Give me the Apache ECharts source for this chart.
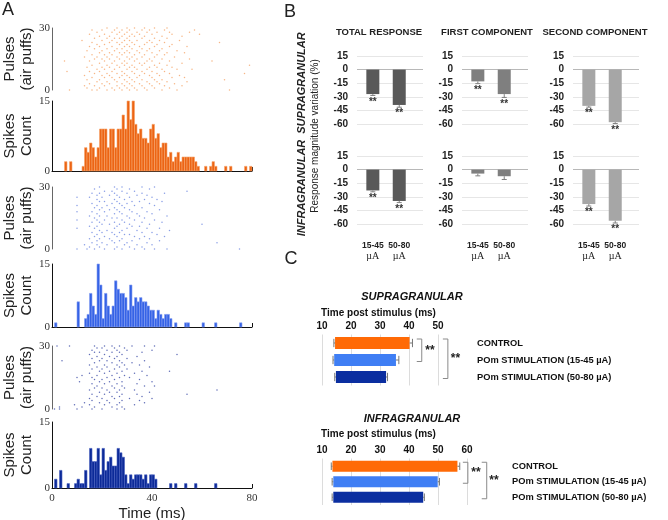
<!DOCTYPE html>
<html><head><meta charset="utf-8">
<script src="https://cdn.jsdelivr.net/npm/echarts@6/dist/echarts.min.js"></script>
<style>html,body{margin:0;padding:0;background:#fff}#c{width:668px;height:520px}</style>
</head><body><div id="c"></div>
<script>
// ================= DATA =================
// Panel A : time axis ticks (ms)
const timeTicks = [0, 40, 80];
// Peri-stimulus histograms: spike counts in 1-ms bins (index = bin start, ms)
const orangeHist = [0,0,0,0,0,2,0,2,0,0, 0,0,1,5,4,6,5,3,5,9, 9,9,5,9,9,5,9,9,12,9, 15,11,15,10,8,9,7,7,6,9, 10,7,8,5,6,6,3,4,2,3, 4,2,3,3,3,3,3,2,1,0, 0,1,0,1,2,1,0,0,0,1, 0,1,0,0,0,0,0,1,0,1];
const blueHist   = [0,1,0,0,0,0,0,0,0,0, 6,0,0,2,3,8,5,3,15,10, 2,8,5,3,5,11,9,8,8,7, 4,10,5,7,6,7,6,6,5,4, 4,2,4,3,2,3,3,2,0,1, 0,0,0,1,1,0,0,0,0,0, 1,0,0,0,0,1,0,0,0,0, 0,0,0,0,0,1,0,0,0,0];
const navyHist   = [0,2,0,4,0,0,1,0,0,1, 2,1,1,4,0,9,6,6,9,3, 9,4,6,7,5,5,9,8,7,3, 1,3,2,3,3,3,2,3,1,3, 3,2,0,0,0,0,0,1,0,1, 0,0,0,1,0,0,0,1,0,0, 0,0,0,0,0,1,0,0,0,0, 0,0,0,0,0,0,0,0,0,0];
// Raster plots: spike times (ms) for each air-puff trial (index = trial 0..30)
const orangeRaster = [
 [7,16,18,22,25,28,31,34,38,44,50,71],[14,19,24,27,30,33,37,41,47],[13,17,21,26,29,32,36,40,45,52],
 [15,20,23,28,31,35,39,43,49],[18,22,26,30,33,38,42,46,54],[14,19,25,29,32,36,41,44,69],
 [16,21,24,27,31,34,40,48,53],[13,20,23,28,30,35,39,43,51],[17,22,26,29,33,37,42,47,77],
 [6,15,19,24,28,32,36,40,45],[18,21,25,30,34,38,44,50,56],[14,20,23,27,31,33,39,42,48],
 [16,22,26,29,32,36,41,46,79],[19,24,28,30,35,37,43,52],[5,15,21,25,29,33,38,40,47,64],
 [17,20,23,27,31,34,39,44,55],[13,18,22,26,30,32,36,41,49],[16,21,24,28,33,37,42,45],
 [19,23,27,29,31,35,40,46,53],[14,20,25,30,34,38,43,50],[17,22,26,28,32,36,39,44],
 [15,19,24,29,31,35,41,47,54],[18,21,27,30,33,37,42,48],[16,23,26,28,32,38,40,45,67],
 [12,20,24,29,31,34,39,43,51],[17,22,25,27,30,36,41,46],[19,23,28,31,33,37,44,52],
 [15,21,26,29,32,35,40,48,59],[18,24,27,30,34,38,42,47,55],[16,20,25,28,31,36,39,45,57],
 [22,26,30,33,37,41,46]
];
const blueRaster = [
 [10,14,17,21,25,28,33,37,41,46,75],[15,19,26,31,36],[13,18,22,29,34,40],[16,20,25,30,38,66],
 [18,24,27,32,43],[15,19,23,28,35,39],[17,21,26,33,37,45],[18,25,29,31,42],[16,20,24,27,36,40],
 [19,22,28,34,47],[10,17,25,30,38,43],[15,18,26,32,35],[20,23,27,31,39,60],[16,19,25,29,36,44],
 [10,18,21,28,33,41],[17,24,26,31,37],[15,19,22,30,35,46],[18,25,28,34,40],[10,16,21,27,32,38],
 [19,23,26,31,43],[17,20,25,29,36],[10,18,22,28,33,41],[16,24,27,30,39],[19,21,26,32,35,44],
 [18,25,29,37,42],[10,15,20,27,31,40],[18,23,26,34,38],[16,19,25,30,36,45],[21,24,28,33,54],
 [17,26,31,39],[19,25,28,36,41]
];
const navyRaster = [
 [1,3,10,16,20,26,29],[3,12,17,24,28],[9,15,21,26,33],[13,19,23,27,37],[16,22,28,35],
 [15,20,25,31,40],[18,24,27,36],[16,21,28,34,54],[19,23,26,39],[15,22,27,33,66],
 [17,20,25,29],[18,24,28,37,41],[16,21,26,34],[11,19,23,28,40],[17,20,25,35],
 [10,16,22,27,31],[12,18,24,29,38],[15,21,26,33],[19,23,28,36,47],[16,20,25,30],
 [18,22,27,39],[15,21,26,29,35],[17,24,28,32],[4,19,22,27,37],[16,20,25,30],
 [18,23,26,34],[15,21,28,50],[17,19,24,27,36],[16,22,26,30,40],[18,20,25,29],
 [2,7,17,21,24,27,32,37,41]
];
const rasterTicks = [0, 30];
const countTicks = [0, 15];

// Panel B : response magnitude variation (%)
const bStimLabels = ['15-45', '50-80'];
const bTicks = [15, 0, -15, -30, -45, -60];
const supraTotal  = [-27, -39],   supraTotalErr  = [1.5, 2.5], supraTotalSig  = [1, 1];
const supraFirst  = [-13, -27],   supraFirstErr  = [2.5, 3.7], supraFirstSig  = [1, 1];
const supraSecond = [-40, -58],   supraSecondErr = [1.4, 1.5], supraSecondSig = [1, 1];
const infraTotal  = [-23, -34.6], infraTotalErr  = [1.5, 1.8], infraTotalSig  = [1, 1];
const infraFirst  = [-4.4, -7.3], infraFirstErr  = [2.5, 3.6], infraFirstSig  = [0, 0];
const infraSecond = [-38, -56.4], infraSecondErr = [2.2, 2.5], infraSecondSig = [1, 1];

// Panel C : time post stimulus (ms)
const cCategories = ['CONTROL', 'POm STIMULATION (15-45 \u00b5A)', 'POm STIMULATION (50-80 \u00b5A)'];
const supraStart = [14.5, 14.2, 14.8], supraStartErr = [0.4, 0.4, 0.4];
const supraEnd   = [40.2, 35.5, 32.1], supraEndErr   = [1.0, 1.0, 0.5];
const infraStart = [13.6, 13.9, 13.9], infraStartErr = [0.4, 0.4, 0.4];
const infraEnd   = [56.7, 49.9, 44.9], infraEndErr   = [0.8, 0.6, 0.4];
const supraTicks = [10, 20, 30, 40, 50];
const infraTicks = [10, 20, 30, 40, 50, 60];

// ================= CHART =================
const SANS = '"Liberation Sans", Arial, Helvetica, sans-serif';
const SERIF = '"Liberation Serif", "Times New Roman", serif';
const chart = echarts.init(document.getElementById('c'), null, {renderer: 'canvas'});
const grid = [], xAxis = [], yAxis = [], series = [], graphic = [];
function addGrid(g) { grid.push(Object.assign({outerBoundsMode: 'none', containLabel: false, show: false}, g)); return grid.length - 1; }

// ---------- Panel A ----------
const aPanels = [
  {raster: orangeRaster, hist: orangeHist, dot: '#F5A466', fill: '#EC6414', stroke: '#F7A56C', rTop: 28, rH: 62, hTop: 101, hH: 70, labels: false},
  {raster: blueRaster, hist: blueHist, dot: '#6C86E0', fill: '#3563E6', stroke: '#86A0F2', rTop: 187, rH: 62, hTop: 264, hH: 63, labels: false},
  {raster: navyRaster, hist: navyHist, dot: '#3A4AA6', fill: '#0C2A98', stroke: '#4A62C0', rTop: 346, rH: 63, hTop: 422, hH: 66, labels: true}
];
const axisNameStyle = {fontFamily: SANS, fontSize: 15, lineHeight: 17, color: '#222'};
const tickFont = {fontFamily: SERIF, fontSize: 11, color: '#333'};
aPanels.forEach(p => {
  // raster
  let gi = addGrid({left: 52, width: 200, top: p.rTop, height: p.rH});
  xAxis.push({gridIndex: gi, type: 'value', min: timeTicks[0], max: timeTicks[timeTicks.length - 1], show: false});
  yAxis.push({gridIndex: gi, type: 'value', min: rasterTicks[0], max: rasterTicks[1], interval: rasterTicks[1],
    axisLine: {show: true, lineStyle: {color: '#666', width: 1}}, axisTick: {show: false}, splitLine: {show: false},
    axisLabel: Object.assign({margin: 2}, tickFont),
    name: 'Pulses\n(air puffs)', nameLocation: 'middle', nameRotate: 90, nameGap: 12, nameTextStyle: axisNameStyle});
  series.push({type: 'scatter', xAxisIndex: xAxis.length - 1, yAxisIndex: yAxis.length - 1, symbol: 'circle', symbolSize: 1.5,
    itemStyle: {color: p.dot}, silent: true,
    data: p.raster.flatMap((times, trial) => times.map(t => [t, trial]))});
  // histogram
  gi = addGrid({left: 52, width: 200, top: p.hTop, height: p.hH});
  xAxis.push({gridIndex: gi, type: 'value', min: timeTicks[0], max: timeTicks[timeTicks.length - 1], interval: timeTicks[1] - timeTicks[0],
    axisLine: {show: true, onZero: false, lineStyle: {color: '#111', width: 1}},
    axisTick: {show: true, inside: true, length: 4, lineStyle: {color: '#111'}}, splitLine: {show: false},
    axisLabel: Object.assign({show: p.labels, margin: 5}, tickFont),
    name: p.labels ? 'Time (ms)' : '', nameLocation: 'middle', nameGap: 17, nameTextStyle: axisNameStyle});
  yAxis.push({gridIndex: gi, type: 'value', min: countTicks[0], max: countTicks[1], interval: countTicks[1],
    axisLine: {show: true, lineStyle: {color: '#111', width: 1}}, axisTick: {show: false}, splitLine: {show: false},
    axisLabel: Object.assign({margin: 2}, tickFont),
    name: 'Spikes\nCount', nameLocation: 'middle', nameRotate: 90, nameGap: 12, nameTextStyle: axisNameStyle});
  const fill = p.fill, stroke = p.stroke;
  series.push({type: 'custom', xAxisIndex: xAxis.length - 1, yAxisIndex: yAxis.length - 1, silent: true,
    data: p.hist.map((c, i) => [i, c]).filter(d => d[1] > 0),
    encode: {x: 0, y: 1},
    renderItem: (params, api) => {
      const a = api.coord([api.value(0), 0]);
      const b = api.coord([api.value(0) + 1, api.value(1)]);
      return {type: 'rect', shape: {x: a[0], y: b[1], width: b[0] - a[0], height: a[1] - b[1]},
        style: {fill: fill, stroke: stroke, lineWidth: 0.6}};
    }});
});

// ---------- Panel B ----------
const bPos = [0.6, 1.6];
const bCols = [
  {left: 357, color: '#595959', title: 'TOTAL RESPONSE', tx: 379,
   rows: [[supraTotal, supraTotalErr, supraTotalSig], [infraTotal, infraTotalErr, infraTotalSig]]},
  {left: 462, color: '#7F7F7F', title: 'FIRST COMPONENT', tx: 487,
   rows: [[supraFirst, supraFirstErr, supraFirstSig], [infraFirst, infraFirstErr, infraFirstSig]]},
  {left: 573, color: '#A6A6A6', title: 'SECOND COMPONENT', tx: 595,
   rows: [[supraSecond, supraSecondErr, supraSecondSig], [infraSecond, infraSecondErr, infraSecondSig]]}
];
const bRowTops = [56, 156];
const gridColors = bTicks.slice().reverse().map(v => v === 0 ? '#b8b8b8' : '#e6e6e6');
bCols.forEach(col => {
  graphic.push({type: 'text', x: col.tx, y: 32, style: {text: col.title, fontFamily: SANS, fontSize: 9.5, fontWeight: 'bold', fill: '#222', align: 'center', verticalAlign: 'middle'}});
  col.rows.forEach((r, ri) => {
    const gi = addGrid({left: col.left, width: 66, top: bRowTops[ri], height: 68});
    xAxis.push({gridIndex: gi, type: 'value', min: 0, max: 2.5,
      axisLine: {show: false}, axisTick: {show: false}, splitLine: {show: false},
      axisLabel: {show: ri === 1, customValues: bPos, margin: 17, interval: 0,
        formatter: v => { const i = bPos.findIndex(q => Math.abs(q - v) < 1e-6); return i < 0 ? '' : '{a|' + bStimLabels[i] + '}\n{b|\u00b5A}'; },
        rich: {a: {fontFamily: SANS, fontSize: 8.5, fontWeight: 'bold', color: '#222', lineHeight: 10},
               b: {fontFamily: SERIF, fontSize: 10, color: '#222', lineHeight: 10}}}});
    yAxis.push({gridIndex: gi, type: 'value', min: bTicks[bTicks.length - 1], max: bTicks[0], interval: bTicks[0] - bTicks[1],
      axisLine: {show: false}, axisTick: {show: false},
      splitLine: {show: true, lineStyle: {color: gridColors, width: 1}},
      axisLabel: {fontFamily: SANS, fontSize: 10, fontWeight: 'bold', color: '#222', margin: 9}});
    const [vals, errs, sig] = r;
    series.push({type: 'bar', xAxisIndex: xAxis.length - 1, yAxisIndex: yAxis.length - 1, barWidth: 13, silent: true,
      itemStyle: {color: col.color}, data: bPos.map((p, i) => [p, vals[i]])});
    series.push({type: 'custom', xAxisIndex: xAxis.length - 1, yAxisIndex: yAxis.length - 1, silent: true, clip: false, z: 5,
      data: bPos.map((p, i) => [p, vals[i], errs[i], sig[i]]), encode: {x: 0, y: 1},
      renderItem: (params, api) => {
        const x = api.value(0), v = api.value(1), e = api.value(2), s = api.value(3);
        const p0 = api.coord([x, v]), p1 = api.coord([x, v - e]);
        const ch = [
          {type: 'line', shape: {x1: p0[0], y1: p0[1], x2: p1[0], y2: p1[1]}, style: {stroke: '#808080', lineWidth: 1}},
          {type: 'line', shape: {x1: p1[0] - 2.5, y1: p1[1], x2: p1[0] + 2.5, y2: p1[1]}, style: {stroke: '#808080', lineWidth: 1}}
        ];
        if (s) ch.push({type: 'text', x: p1[0], y: p1[1] + 1.5, style: {text: '**', fontFamily: SANS, fontSize: 10, fontWeight: 'bold', fill: '#333', align: 'center', verticalAlign: 'top'}});
        return {type: 'group', children: ch};
      }});
  });
});
graphic.push({type: 'text', x: 302, y: 83, rotation: Math.PI / 2, style: {text: 'SUPRAGRANULAR', fontFamily: SANS, fontSize: 11, fontWeight: 'bold', fontStyle: 'italic', fill: '#222', align: 'center', verticalAlign: 'middle'}});
graphic.push({type: 'text', x: 302, y: 188, rotation: Math.PI / 2, style: {text: 'INFRAGRANULAR', fontFamily: SANS, fontSize: 11, fontWeight: 'bold', fontStyle: 'italic', fill: '#222', align: 'center', verticalAlign: 'middle'}});
graphic.push({type: 'text', x: 315, y: 136, rotation: Math.PI / 2, style: {text: 'Response magnitude variation (%)', fontFamily: SANS, fontSize: 10, fill: '#222', align: 'center', verticalAlign: 'middle'}});

// ---------- Panel C ----------
const cColors = ['#FF6A06', '#3F7EF4', '#0B2EA0'];
const cPanels = [
  {title: 'SUPRAGRANULAR', titleY: 297, axisTitleY: 313, top: 334.5, height: 51, ticks: supraTicks,
   start: supraStart, startErr: supraStartErr, end: supraEnd, endErr: supraEndErr, labelMargin: 39,
   brackets: [[44.4, 0, 1, 3.5], [53.4, 0, 2, 3]]},
  {title: 'INFRAGRANULAR', titleY: 419, axisTitleY: 434, top: 458.5, height: 46.5, ticks: infraTicks,
   start: infraStart, startErr: infraStartErr, end: infraEnd, endErr: infraEndErr, labelMargin: 45,
   brackets: [[60.3, 0, 1, 3.5], [66.8, 0, 2, 2.5]]}
];
cPanels.forEach(p => {
  const tmin = p.ticks[0], tmax = p.ticks[p.ticks.length - 1];
  const width = (tmax - tmin) * 2.9;
  const gi = addGrid({left: 322, width: width, top: p.top, height: p.height});
  graphic.push({type: 'text', x: 412, y: p.titleY, style: {text: p.title, fontFamily: SANS, fontSize: 11, fontWeight: 'bold', fontStyle: 'italic', fill: '#111', align: 'center', verticalAlign: 'middle'}});
  graphic.push({type: 'text', x: 378.5, y: p.axisTitleY, style: {text: 'Time post stimulus (ms)', fontFamily: SANS, fontSize: 10, fontWeight: 'bold', fill: '#111', align: 'center', verticalAlign: 'middle'}});
  xAxis.push({gridIndex: gi, type: 'value', position: 'top', min: tmin, max: tmax, interval: p.ticks[1] - p.ticks[0],
    axisLine: {show: false}, axisTick: {show: false},
    splitLine: {show: true, lineStyle: {color: '#dcdcdc', width: 1}},
    axisLabel: {fontFamily: SANS, fontSize: 10, fontWeight: 'bold', color: '#111', margin: 3}});
  yAxis.push({gridIndex: gi, type: 'category', data: cCategories, inverse: true, position: 'right',
    axisLine: {show: false}, axisTick: {show: false}, splitLine: {show: false},
    axisLabel: {fontFamily: SANS, fontSize: 9.3, fontWeight: 'bold', color: '#111', margin: p.labelMargin, align: 'left'}});
  const xi = xAxis.length - 1, yi = yAxis.length - 1;
  series.push({type: 'custom', xAxisIndex: xi, yAxisIndex: yi, silent: true,
    data: cCategories.map((c, i) => [i, p.start[i], p.end[i], p.startErr[i], p.endErr[i]]),
    encode: {x: [1, 2], y: 0},
    renderItem: (params, api) => {
      const cat = api.value(0), s = api.value(1), e = api.value(2), se = api.value(3), ee = api.value(4);
      const a = api.coord([s, cat]), b = api.coord([e, cat]);
      const h = api.size([0, 1])[1] * 0.7;
      const a2 = api.coord([s - se, cat]), b2 = api.coord([e + ee, cat]);
      const cap = h * 0.7, es = {stroke: '#777', lineWidth: 1};
      return {type: 'group', children: [
        {type: 'rect', shape: {x: a[0], y: a[1] - h / 2, width: b[0] - a[0], height: h}, style: {fill: cColors[cat]}},
        {type: 'line', shape: {x1: a2[0], y1: a[1], x2: a[0], y2: a[1]}, style: es},
        {type: 'line', shape: {x1: a2[0], y1: a[1] - cap / 2, x2: a2[0], y2: a[1] + cap / 2}, style: es},
        {type: 'line', shape: {x1: b[0], y1: b[1], x2: b2[0], y2: b2[1]}, style: es},
        {type: 'line', shape: {x1: b2[0], y1: b[1] - cap / 2, x2: b2[0], y2: b[1] + cap / 2}, style: es}
      ]};
    }});
  series.push({type: 'custom', xAxisIndex: xi, yAxisIndex: yi, silent: true, clip: false,
    data: p.brackets, encode: {x: 0, y: 1},
    renderItem: (params, api) => {
      const x = api.value(0), c0 = api.value(1), c1 = api.value(2), off = api.value(3);
      const t = api.coord([x, c0]), b = api.coord([x, c1]);
      const y0 = t[1] - 4, y1 = b[1] + 1.5, arm = 5;
      return {type: 'group', children: [
        {type: 'polyline', shape: {points: [[t[0] - arm, y0], [t[0], y0], [t[0], y1], [t[0] - arm, y1]]}, style: {stroke: '#8a8a8a', lineWidth: 1, fill: null}},
        {type: 'text', x: t[0] + off, y: (y0 + y1) / 2, style: {text: '**', fontFamily: SANS, fontSize: 12, fontWeight: 'bold', fill: '#222', align: 'left', verticalAlign: 'middle'}}
      ]};
    }});
});

// panel letters
[['A', 8, 10], ['B', 290, 12], ['C', 291, 259]].forEach(l => {
  graphic.push({type: 'text', x: l[1], y: l[2], style: {text: l[0], fontFamily: SANS, fontSize: 18, fill: '#222', align: 'center', verticalAlign: 'middle'}});
});

chart.setOption({animation: false, backgroundColor: '#fff', grid, xAxis, yAxis, series, graphic});
</script></body></html>
